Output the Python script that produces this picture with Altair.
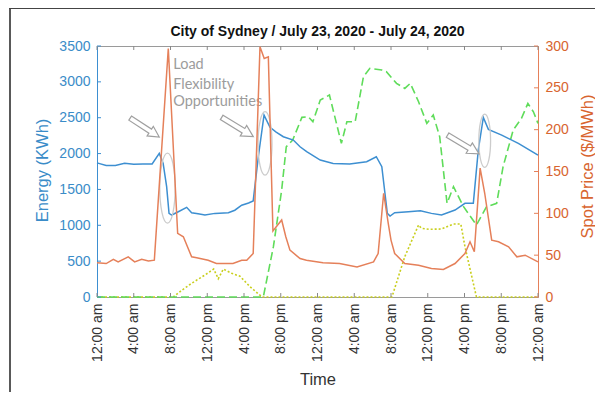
import json
import altair as alt
import pandas as pd

# ---------------- data ----------------
title_text = "City of Sydney / July 23, 2020 - July 24, 2020"
time_labels = ["12:00 am", "4:00 am", "8:00 am", "12:00 pm", "4:00 pm", "8:00 pm",
               "12:00 am", "4:00 am", "8:00 am", "12:00 pm", "4:00 pm", "8:00 pm", "12:00 am"]
x_ticks = [0, 4, 8, 12, 16, 20, 24, 28, 32, 36, 40, 44, 48]
energy_ticks = [0, 500, 1000, 1500, 2000, 2500, 3000, 3500]
price_ticks = [0, 50, 100, 150, 200, 250, 300]

energy_hours = [0.0, 1.0, 2.0, 3.0, 4.0, 5.0, 6.0, 6.78, 7.2, 7.58, 7.84, 8.13, 8.85, 9.76, 10.3,
                11.0, 11.75, 12.84, 14.3, 15.0, 15.75, 16.5, 17.0, 17.56, 18.18, 18.83, 19.5,
                20.28, 21.37, 22.1, 22.82, 24.3, 25.7, 27.5, 29.35, 30.4, 31.0, 31.6, 31.9,
                32.4, 33.9, 35.2, 36.4, 37.5, 38.97, 40.05, 40.96, 41.5, 42.05, 42.6, 44.05,
                45.86, 48.0]
energy_values = [1870, 1835, 1835, 1865, 1850, 1855, 1855, 2003, 1863, 1538, 1166, 1143, 1189,
                 1250, 1175, 1160, 1143, 1166, 1175, 1210, 1280, 1310, 1340, 1956, 2537, 2366,
                 2300, 2235, 2188, 2095, 2026, 1910, 1863, 1854, 1886, 1956, 1817, 1166, 1129,
                 1175, 1189, 1203, 1166, 1143, 1213, 1306, 1306, 2049, 2505, 2338, 2258, 2142,
                 1979]

price_hours = [0.0, 1.0, 1.78, 2.3, 3.4, 4.1, 4.86, 5.6, 6.24, 7.76, 8.78, 9.4, 10.3, 10.85,
               12.1, 13.0, 14.8, 15.75, 16.3, 17.0, 17.74, 18.2, 18.65, 19.15, 20.1, 20.55,
               21.0, 22.1, 22.8, 24.6, 26.4, 28.3, 30.1, 30.6, 31.2, 31.7, 32.0, 32.4, 33.5,
               35.0, 36.4, 37.7, 38.97, 40.05, 40.6, 41.07, 41.7, 42.2, 42.96, 43.7, 44.8,
               45.7, 46.6, 48.0]
price_values = [41, 40, 45, 42, 48, 42, 45, 43, 44, 297, 76, 72, 48, 47, 44, 40, 40, 44, 44,
                52, 299, 285, 287, 79, 92, 72, 56, 46, 44, 41, 40, 36, 42, 52, 124, 88, 68,
                52, 40, 38, 34, 33, 40, 52, 66, 54, 154, 124, 68, 66, 60, 48, 50, 42]

green_hours = [0.0, 18.1, 19.2, 20.1, 20.6, 21.3, 22.3, 23.0, 23.5, 24.3, 25.3, 26.6, 27.2,
               28.1, 29.0, 29.7, 31.0, 31.5, 32.6, 33.5, 34.1, 35.0, 35.9, 36.6, 37.3, 38.1,
               38.8, 39.9, 41.3, 42.4, 43.5, 44.2, 45.3, 46.2, 46.9, 47.5, 48.0]
green_values = [0, 0, 701, 1492, 2095, 2188, 2505, 2514, 2444, 2746, 2816, 2142, 2444, 2444,
                3071, 3188, 3165, 3141, 2979, 2909, 2979, 2723, 2421, 2537, 2235, 1306, 1538,
                1259, 1004, 1259, 1306, 1817, 2328, 2491, 2700, 2583, 2421]

yellow_hours = [0.0, 8.3, 9.3, 10.3, 11.75, 12.7, 13.2, 13.75, 14.66, 15.56, 16.65, 17.7,
                18.0, 32.1, 33.5, 35.0, 35.3, 36.1, 37.5, 38.8, 39.6, 40.05, 40.8, 41.3, 48.0]
yellow_values = [0, 0, 100, 191, 307, 390, 255, 390, 330, 290, 144, 28, 0, 0, 562, 1004, 958,
                 944, 948, 1018, 1018, 701, 280, 0, 0]

note_lines = ["Load", "Flexibility", "Opportunities"]
note_hours = [8.3, 8.3, 8.3]
note_values = [3234, 2960, 2715]

ellipse_hours = [7.67, 18.29, 42.2]
ellipse_values = [1519, 2142, 2179]
ellipse_sizes = [4900, 4020, 2850]

arrow_hours = [5.19, 15.29, 39.87]
arrow_values = [2363, 2370, 2126]
arrow_angles = [33, 31.5, 31]
arrow_sizes = [1200, 1370, 1340]

# ---------------- styling ----------------
W, H = 441, 251
BLUE = "#3d8fd1"
BLUE_TXT = "#3a8cc8"
ORANGE = "#e5805a"
ORANGE_TXT = "#d8652f"
GREEN = "#5fdc5a"
YELLOW = "#c9cf1e"
FONT = "Liberation Sans"

x_scale = alt.Scale(domain=[0, 48], nice=False, zero=False)
e_scale = alt.Scale(domain=[0, 3500], nice=False)
p_scale = alt.Scale(domain=[0, 300], nice=False)

x_axis = alt.Axis(values=x_ticks, labelExpr=json.dumps(time_labels) + "[round(datum.value / 4)]",
                  labelAngle=270, labelAlign="right", labelBaseline="middle", labelPadding=6,
                  labelFontSize=14, labelColor="#333333", ticks=False, domain=False,
                  title="Time", titleFontSize=16.5, titleFontWeight="normal", titleColor="#333333",
                  titleX=W / 2, titleY=87, titleAlign="center", titleBaseline="alphabetic",
                  labelFlush=False, labelOverlap=False)
left_axis = alt.Axis(values=energy_ticks, format="d", labelFontSize=14, labelColor=BLUE_TXT,
                     labelPadding=7, ticks=False, domainColor=BLUE, domainWidth=1,
                     title="Energy (KWh)", titleFontSize=16.5, titleFontWeight="normal",
                     titleColor=BLUE_TXT, titleX=-55, titleY=124, titleAlign="center",
                     titleBaseline="middle", titleAngle=270, labelFlush=False, labelOverlap=False)
right_axis = alt.Axis(orient="right", values=price_ticks, format="d", labelFontSize=14,
                      labelColor=ORANGE_TXT, labelPadding=7, ticks=False, domainColor=ORANGE,
                      domainWidth=1, title="Spot Price ($/MWh)", titleFontSize=16.5,
                      titleFontWeight="normal", titleColor=ORANGE_TXT, titleX=49, titleY=120,
                      titleAlign="center", titleBaseline="middle", titleAngle=270,
                      labelFlush=False, labelOverlap=False)

X = alt.X("h:Q", scale=x_scale, axis=x_axis)
YE = alt.Y("v:Q", scale=e_scale, axis=left_axis)
YP = alt.Y("p:Q", scale=p_scale, axis=right_axis)

df_e = pd.DataFrame({"h": energy_hours, "v": energy_values})
df_g = pd.DataFrame({"h": green_hours, "v": green_values})
df_y = pd.DataFrame({"h": yellow_hours, "v": yellow_values})
df_p = pd.DataFrame({"h": price_hours, "p": price_values})
df_note = pd.DataFrame({"h": note_hours, "v": note_values, "t": note_lines})
df_ell = pd.DataFrame({"h": ellipse_hours, "v": ellipse_values, "s": ellipse_sizes})
df_arr = pd.DataFrame({"h": arrow_hours, "v": arrow_values, "a": arrow_angles, "s": arrow_sizes})
df_xt = pd.DataFrame({"h": x_ticks})
df_et = pd.DataFrame({"v": energy_ticks})
df_pt = pd.DataFrame({"p": price_ticks})
one = pd.DataFrame({"k": [0]})

ELLIPSE = "M0,-1 A0.22,1 0 1,1 0,1 A0.22,1 0 1,1 0,-1 Z"
ARROW = "M-1,-0.14 L0.38,-0.14 L0.38,-0.33 L1,0 L0.38,0.33 L0.38,0.14 L-1,0.14 Z"

yellow = alt.Chart(df_y).mark_line(color=YELLOW, strokeWidth=1.6, strokeDash=[2, 2]).encode(x=X, y=YE)
green = alt.Chart(df_g).mark_line(color=GREEN, strokeWidth=1.6, strokeDash=[8, 4]).encode(x=X, y=YE)
blue = alt.Chart(df_e).mark_line(color=BLUE, strokeWidth=1.5).encode(x=X, y=YE)
ellipses = alt.Chart(df_ell).mark_point(shape=ELLIPSE, filled=False, color="#cccccc",
                                        strokeWidth=1.3, opacity=1).encode(
    x=X, y=YE, size=alt.Size("s:Q", scale=None, legend=None))
arrows = alt.Chart(df_arr).mark_point(shape=ARROW, filled=True, fill="white", stroke="#a0a0a0",
                                      strokeWidth=1.2, opacity=1).encode(
    x=X, y=YE, size=alt.Size("s:Q", scale=None, legend=None), angle=alt.Angle("a:Q", scale=None))
note = alt.Chart(df_note).mark_text(align="left", baseline="middle", font="Lato", fontSize=14.5,
                                    color="#9c9c9c").encode(x=X, y=YE, text="t:N")
title_mark = alt.Chart(one).mark_text(align="center", baseline="alphabetic", font=FONT,
                                      fontSize=14, fontWeight="bold", color="#111111").encode(
    x=alt.value(W / 2), y=alt.value(-10), text=alt.value(title_text))
lticks = alt.Chart(df_et).mark_rule(color=BLUE).encode(y=YE, x=alt.value(0), x2=alt.value(4))
bticks = alt.Chart(df_xt).mark_rule(color="#888888").encode(x=X, y=alt.value(H), y2=alt.value(H - 4))
tticks = alt.Chart(df_xt).mark_rule(color="#888888").encode(x=X, y=alt.value(0), y2=alt.value(4))
frame_v = alt.Chart(one).mark_rule(color="#222222", strokeWidth=1.5).encode(
    x=alt.value(-87), y=alt.value(-38), y2=alt.value(H + 100))
frame_h = alt.Chart(one).mark_rule(color="#444444", strokeWidth=1).encode(
    x=alt.value(-88), x2=alt.value(W + 60), y=alt.value(-37.5))

energy_layer = alt.layer(yellow, green, blue, ellipses, arrows, note, lticks, bticks, tticks,
                         frame_v, frame_h, title_mark)

orange = alt.Chart(df_p).mark_line(color=ORANGE, strokeWidth=1.5).encode(x=X, y=YP)
rticks = alt.Chart(df_pt).mark_rule(color=ORANGE).encode(y=YP, x=alt.value(W), x2=alt.value(W - 4))
price_layer = alt.layer(orange, rticks)

chart = alt.layer(energy_layer, price_layer).resolve_scale(y="independent").properties(
    width=W, height=H,
    autosize=alt.AutoSizeParams(type="none"),
    padding={"left": 89, "top": 38, "right": 57, "bottom": 95},
).configure_axis(labelFont=FONT, titleFont=FONT, grid=False).configure_view(
    stroke="#9a9a9a", strokeWidth=1)

chart.save("out.html", embed_options={"renderer": "svg", "actions": False})
